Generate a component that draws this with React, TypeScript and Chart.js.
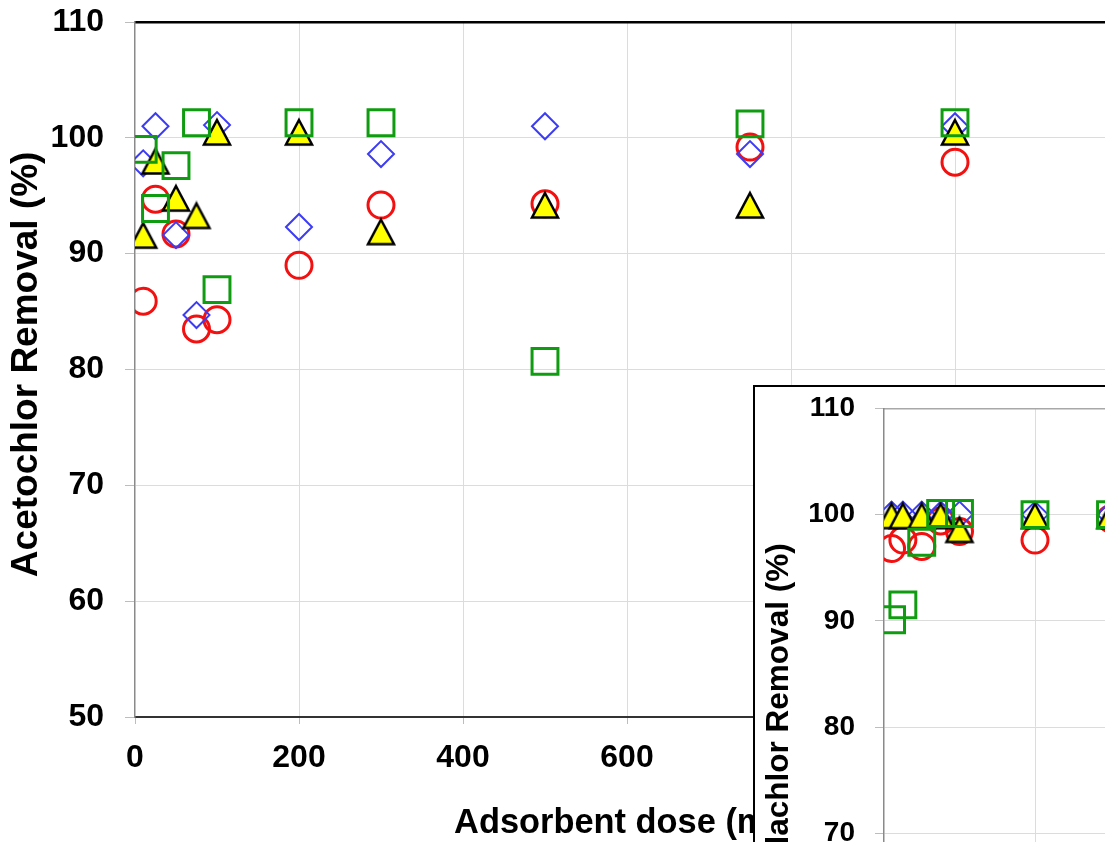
import React, { useEffect, useRef } from 'react';
import { Chart, registerables } from 'chart.js';

Chart.register(...registerables);

// ---- data ----
const doses = [10, 25, 50, 75, 100, 200, 300, 500, 750, 1000];

// Main chart: Acetochlor removal (%)
const acetoDiamond = [97.8, 101.0, 91.6, 84.7, 101.1, 92.3, 98.6, 101.0, 98.6, 101.0];
const acetoCircle = [85.9, 94.7, 91.7, 83.5, 84.3, 89.0, 94.2, 94.3, 99.2, 97.9];
const acetoTriangle = [91.6, 98.0, 94.8, 93.3, 100.5, 100.5, 91.9, 94.2, 94.2, 100.5];
const acetoSquare = [99.0, 93.9, 97.6, 101.3, 86.9, 101.3, 101.3, 80.7, 101.2, 101.3];

// Inset chart: Alachlor removal (%)
const alaDiamond = [100.0, 100.0, 100.0, 100.0, 100.0, 100.0, 100.0, 100.0, 100.0, 100.0];
const alaCircle = [96.8, 97.6, 97.0, 99.4, 98.4, 97.6, 99.6, 99.6, 99.7, 99.8];
const alaTriangle = [99.9, 99.9, 99.9, 99.9, 98.6, 99.9, 99.9, 99.9, 99.9, 99.9];
const alaSquare = [90.1, 91.5, 97.4, 100.1, 100.1, 100.0, 100.0, 100.0, 100.0, 100.0];

const yTicksMin = 50;
const yTicksMax = 110;
const yStep = 10;
const xTicksMin = 0;
const xTicksMax = 1200;
const xStep = 200;

const FONT = '"Liberation Sans", Arial, Helvetica, sans-serif';

function pts(values: number[]) {
  return doses.map((d, i) => ({ x: d, y: values[i] }));
}

// Excel-like triangle marker (yellow fill, black outline), centred on its box
function makeTriangleMarker(): HTMLCanvasElement {
  const w = 32;
  const h = 30;
  const c = document.createElement('canvas');
  c.width = w;
  c.height = h;
  const ctx = c.getContext('2d') as CanvasRenderingContext2D;
  ctx.beginPath();
  ctx.moveTo(w / 2, 3);
  ctx.lineTo(w - 3, h - 2.5);
  ctx.lineTo(3, h - 2.5);
  ctx.closePath();
  ctx.fillStyle = '#ffff00';
  ctx.fill();
  ctx.lineWidth = 2.5;
  ctx.lineJoin = 'miter';
  ctx.strokeStyle = '#000000';
  ctx.stroke();
  return c;
}

function makeDatasets(sq: number[], tri: number[], dia: number[], cir: number[]) {
  const triMarker = makeTriangleMarker();
  return [
    {
      label: 'Series 4',
      data: pts(sq),
      pointStyle: 'rect',
      pointRadius: 18.3,
      pointHoverRadius: 18.3,
      borderWidth: 3,
      pointBorderWidth: 3,
      borderColor: '#109c10',
      backgroundColor: 'rgba(0,0,0,0)',
    },
    {
      label: 'Series 3',
      data: pts(tri),
      pointStyle: triMarker,
      pointRadius: 15,
      pointHoverRadius: 15,
      borderWidth: 2.5,
      borderColor: '#000000',
      backgroundColor: '#ffff00',
    },
    {
      label: 'Series 1',
      data: pts(dia),
      pointStyle: 'rectRot',
      pointRadius: 13,
      pointHoverRadius: 13,
      borderWidth: 2,
      pointBorderWidth: 2,
      borderColor: '#3c3cf5',
      backgroundColor: 'rgba(0,0,0,0)',
    },
    {
      label: 'Series 2',
      data: pts(cir),
      pointStyle: 'circle',
      pointRadius: 13,
      pointHoverRadius: 13,
      borderWidth: 3,
      pointBorderWidth: 3,
      borderColor: '#f21010',
      backgroundColor: 'rgba(0,0,0,0)',
    },
  ];
}

interface Geo {
  tickFont: number;
  titleFontX: number;
  titleFontY: number;
  yWidth: number;
  xHeight: number;
  yTickLen: number;
  yTickPad: number;
  xTickLen: number;
  xTickPad: number;
  yTitlePadTop: number;
  padding: { top: number; left: number; right: number; bottom: number };
  topBorderColor: string;
  topBorderWidth: number;
  xBorderColor: string;
  xBorderWidth: number;
  yTitle: string;
  xTitle: string;
}

function makeOptions(g: Geo): any {
  return {
    animation: false,
    responsive: false,
    maintainAspectRatio: false,
    events: [],
    layout: { padding: g.padding },
    plugins: {
      legend: { display: false },
      tooltip: { enabled: false },
      title: { display: false },
    },
    scales: {
      x: {
        type: 'linear',
        position: 'bottom',
        min: xTicksMin,
        max: xTicksMax,
        ticks: {
          stepSize: xStep,
          color: '#000',
          padding: g.xTickPad,
          font: { family: FONT, size: g.tickFont, weight: 'bold' },
        },
        grid: {
          color: (c: any) => (c.tick && c.tick.value === xTicksMin ? 'rgba(0,0,0,0)' : '#dcdcdc'),
          tickColor: '#bdbdbd',
          tickLength: g.xTickLen,
          lineWidth: 1,
        },
        border: { display: true, color: g.xBorderColor, width: g.xBorderWidth },
        title: {
          display: true,
          text: g.xTitle,
          color: '#000',
          padding: 0,
          font: { family: FONT, size: g.titleFontX, weight: 'bold' },
        },
        afterFit: (s: any) => {
          s.height = g.xHeight;
          s.paddingLeft = 0;
          s.paddingRight = 0;
        },
      },
      xTop: {
        type: 'linear',
        position: 'top',
        min: xTicksMin,
        max: xTicksMax,
        ticks: { display: false },
        grid: { display: false, drawTicks: false },
        border: { display: true, color: g.topBorderColor, width: g.topBorderWidth },
        afterFit: (s: any) => {
          s.height = 0;
          s.paddingLeft = 0;
          s.paddingRight = 0;
        },
      },
      y: {
        type: 'linear',
        position: 'left',
        min: yTicksMin,
        max: yTicksMax,
        ticks: {
          stepSize: yStep,
          color: '#000',
          padding: g.yTickPad,
          font: { family: FONT, size: g.tickFont, weight: 'bold' },
        },
        grid: {
          color: '#dcdcdc',
          tickColor: '#bdbdbd',
          tickLength: g.yTickLen,
          lineWidth: 1,
        },
        border: { display: true, color: '#8a8a8a', width: 1.5 },
        title: {
          display: true,
          text: g.yTitle,
          color: '#000',
          padding: { top: g.yTitlePadTop, bottom: 0 },
          font: { family: FONT, size: g.titleFontY, weight: 'bold' },
        },
        afterFit: (s: any) => {
          s.width = g.yWidth;
          s.paddingTop = 0;
          s.paddingBottom = 0;
        },
      },
    },
  };
}

function ScatterCanvas(props: {
  width: number;
  height: number;
  series: number[][];
  geo: Geo;
}) {
  const ref = useRef<HTMLCanvasElement | null>(null);
  useEffect(() => {
    if (!ref.current) return;
    const [sq, tri, dia, cir] = props.series;
    const chart = new Chart(ref.current, {
      type: 'scatter',
      data: { datasets: makeDatasets(sq, tri, dia, cir) },
      options: makeOptions(props.geo),
    } as any);
    return () => chart.destroy();
  }, []);
  return (
    <canvas
      ref={ref}
      width={props.width}
      height={props.height}
      style={{ display: 'block', width: props.width, height: props.height }}
    />
  );
}

const mainGeo: Geo = {
  tickFont: 32,
  titleFontX: 34.4,
  titleFontY: 37,
  yWidth: 135,
  xHeight: 127,
  yTickLen: 10,
  yTickPad: 21,
  xTickLen: 7,
  xTickPad: 15,
  yTitlePadTop: 5,
  padding: { top: 22, left: 0, right: 41, bottom: 16 },
  topBorderColor: '#000000',
  topBorderWidth: 2.5,
  xBorderColor: '#333333',
  xBorderWidth: 2,
  yTitle: ' Acetochlor Removal (%)',
  xTitle: 'Adsorbent dose (mg)',
};

const insetGeo: Geo = {
  tickFont: 28,
  titleFontX: 31,
  titleFontY: 31.5,
  yWidth: 129,
  xHeight: 61,
  yTickLen: 9,
  yTickPad: 20,
  xTickLen: 7,
  xTickPad: 12,
  yTitlePadTop: 5,
  padding: { top: 21, left: 0, right: 40, bottom: 0 },
  topBorderColor: '#a8a8a8',
  topBorderWidth: 1.5,
  xBorderColor: '#333333',
  xBorderWidth: 2,
  yTitle: '     Alachlor Removal (%)',
  xTitle: 'Adsorbent dose (mg)',
};

export default function App() {
  return (
    <div
      style={{
        position: 'fixed',
        left: 0,
        top: 0,
        width: 1105,
        height: 842,
        overflow: 'hidden',
        background: '#ffffff',
      }}
    >
      <div style={{ position: 'absolute', left: 0, top: 0 }}>
        <ScatterCanvas
          width={1160}
          height={860}
          series={[acetoSquare, acetoTriangle, acetoDiamond, acetoCircle]}
          geo={mainGeo}
        />
      </div>
      <div
        style={{
          position: 'absolute',
          left: 753,
          top: 385,
          border: '2px solid #000',
          background: '#ffffff',
        }}
      >
        <ScatterCanvas
          width={1075}
          height={720}
          series={[alaSquare, alaTriangle, alaDiamond, alaCircle]}
          geo={insetGeo}
        />
      </div>
    </div>
  );
}
